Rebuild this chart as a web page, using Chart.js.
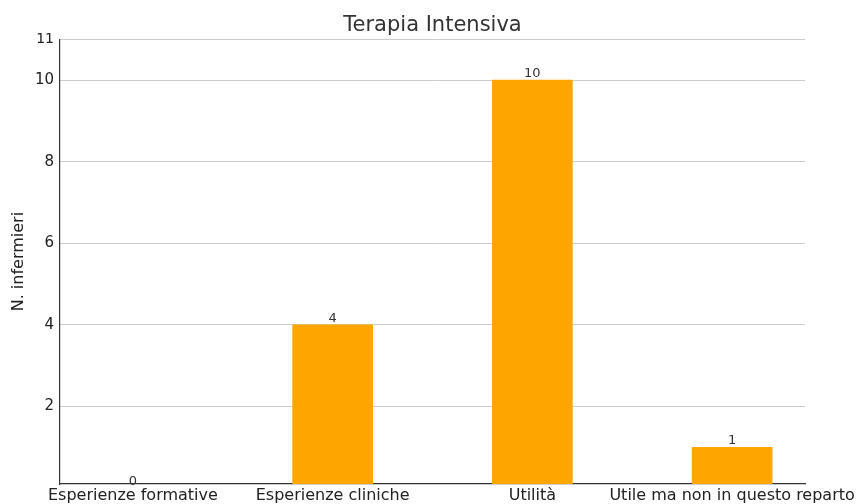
<!DOCTYPE html>
<html>
<head>
<meta charset="utf-8">
<script src="https://cdn.jsdelivr.net/npm/chart.js@4.4.1/dist/chart.umd.min.js"></script>
<style>
  html, body { margin: 0; padding: 0; background: #ffffff; }
  #wrap { width: 856px; height: 504px; }
</style>
</head>
<body>
<div id="wrap"><canvas id="chart" width="856" height="504"></canvas></div>
<script>
// Risposte del reparto di Terapia Intensiva
const categories = ["Esperienze formative", "Esperienze cliniche", "Utilità", "Utile ma non in questo reparto"];
const counts = [0, 4, 10, 1];
const yTicks = [2, 4, 6, 8, 10, 11];

const FONT = "'DejaVu Sans', sans-serif";
const BAR_COLOR = "#FFA500";

// Numero sopra ogni barra
const valueLabels = {
  id: "valueLabels",
  afterDatasetsDraw(chart) {
    const { ctx, scales } = chart;
    const meta = chart.getDatasetMeta(0);
    ctx.save();
    ctx.font = "13px " + FONT;
    ctx.fillStyle = "#333333";
    ctx.textAlign = "center";
    ctx.textBaseline = "bottom";
    meta.data.forEach((bar, i) => {
      const v = counts[i];
      const x = scales.x.getPixelForValue(i);
      const y = scales.y.getPixelForValue(v);
      ctx.fillText(String(v), x, y);
    });
    ctx.restore();
  }
};

new Chart(document.getElementById("chart"), {
  type: "bar",
  data: {
    datasets: [{
      data: counts.map((v, i) => ({ x: i, y: v })),
      backgroundColor: BAR_COLOR,
      borderWidth: 0,
      barThickness: 80
    }]
  },
  options: {
    responsive: false,
    animation: false,
    devicePixelRatio: 1,
    layout: { padding: { left: 9, right: 0, top: 0, bottom: 0 } },
    plugins: {
      legend: { display: false },
      tooltip: { enabled: false },
      title: {
        display: true,
        text: "Terapia Intensiva",
        color: "#333333",
        font: { family: FONT, size: 21, weight: "normal" },
        padding: { top: 13, bottom: 1 }
      }
    },
    scales: {
      x: {
        type: "linear",
        offset: false,
        min: -0.365,
        max: 3.365,
        afterBuildTicks(scale) {
          scale.ticks = categories.map((c, i) => ({ value: i }));
        },
        afterFit(scale) {
          scale.height = 20;
          scale.paddingLeft = 0;
          scale.paddingRight = 51;
        },
        ticks: {
          autoSkip: false,
          maxRotation: 0,
          padding: 2,
          color: "#222222",
          font: { family: FONT, size: 16 },
          callback: (v) => categories[v] ?? ""
        },
        grid: { display: true, offset: false, drawOnChartArea: false, drawTicks: false, color: "rgba(0,0,0,0)" },
        border: { display: true, color: "#333333", width: 1.2 }
      },
      y: {
        min: 0.1,
        max: 11,
        afterBuildTicks(scale) {
          scale.ticks = yTicks.map(v => ({ value: v }));
        },
        afterFit(scale) { scale.width = 51; },
        ticks: {
          padding: 6,
          color: "#222222",
          font: (ctx) => ({ family: FONT, size: ctx.tick && ctx.tick.value === 11 ? 14 : 15 })
        },
        grid: { color: "#cccccc", lineWidth: 1, drawTicks: false },
        border: { display: true, color: "#333333", width: 1.2 },
        title: {
          display: true,
          text: "N. infermieri",
          color: "#222222",
          font: { family: FONT, size: 16 },
          padding: { top: 0, bottom: 0 }
        }
      }
    }
  },
  plugins: [valueLabels]
});
</script>
</body>
</html>
